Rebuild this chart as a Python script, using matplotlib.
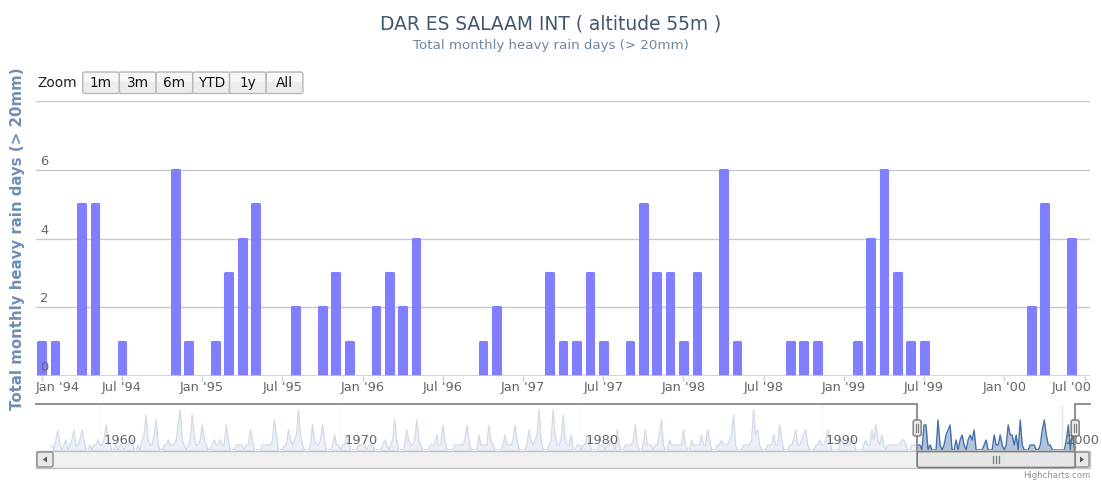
import matplotlib
matplotlib.use("Agg")
import matplotlib.pyplot as plt
from matplotlib.patches import Rectangle, FancyBboxPatch, Polygon
import matplotlib.transforms as mtransforms
import numpy as np
import pandas as pd

# ---------------- data ----------------
title = "DAR ES SALAAM INT ( altitude 55m )"
subtitle = "Total monthly heavy rain days (> 20mm)"
y_title = "Total monthly heavy rain days (> 20mm)"
zoom_label = "Zoom"
zoom_buttons = ["1m", "3m", "6m", "YTD", "1y", "All"]
credit = "Highcharts.com"

# main (zoomed) view: monthly heavy rain days, Jan 1994 .. Jul 2000
main_1994 = [1, 1, 0, 5, 5, 0, 1, 0, 0, 0, 6, 1]
main_1995 = [0, 1, 3, 4, 5, 0, 0, 2, 0, 2, 3, 1]
main_1996 = [0, 2, 3, 2, 4, 0, 0, 0, 0, 1, 2, 0]
main_1997 = [0, 0, 3, 1, 1, 3, 1, 0, 1, 5, 3, 3]
main_1998 = [1, 3, 0, 6, 1, 0, 0, 0, 1, 1, 1, 0]
main_1999 = [0, 1, 4, 6, 3, 1, 1, 0, 0, 0, 0, 0]
main_2000 = [0, 0, 2, 5, 0, 4, 0]
y_ticks = [0, 2, 4, 6]
y_max = 8

# navigator (full history), estimated monthly values 1958 .. 1993
nav_1958_1969 = [
    [1, 0, 2, 4, 1, 0, 1, 2, 0, 1, 2, 4],
    [1, 1, 2, 4, 2, 0, 0, 1, 0, 1, 1, 2],
    [1, 1, 2, 5, 3, 1, 0, 0, 1, 0, 1, 1],
    [0, 1, 1, 3, 2, 0, 0, 1, 0, 2, 3, 7],
    [2, 1, 1, 3, 6, 1, 0, 0, 1, 1, 2, 1],
    [1, 1, 2, 5, 8, 2, 1, 0, 1, 2, 7, 3],
    [1, 1, 2, 5, 2, 1, 0, 0, 1, 2, 1, 1],
    [2, 1, 1, 5, 2, 0, 0, 0, 1, 1, 1, 1],
    [0, 1, 1, 4, 2, 0, 0, 0, 0, 1, 1, 1],
    [1, 1, 2, 6, 3, 0, 0, 0, 1, 1, 4, 2],
    [1, 2, 3, 8, 3, 1, 0, 0, 0, 1, 5, 2],
    [1, 1, 2, 5, 2, 0, 0, 0, 1, 3, 1, 1],
]
nav_1970_1979 = [
    [0, 1, 1, 3, 2, 0, 0, 0, 0, 1, 1, 1],
    [1, 0, 1, 1, 1, 0, 0, 0, 0, 1, 2, 1],
    [0, 1, 2, 6, 2, 0, 0, 0, 1, 4, 2, 1],
    [1, 2, 6, 2, 1, 0, 0, 0, 0, 1, 1, 1],
    [3, 1, 1, 5, 2, 0, 0, 0, 0, 1, 1, 1],
    [1, 1, 2, 5, 2, 0, 0, 0, 0, 3, 1, 1],
    [1, 1, 5, 2, 1, 0, 0, 0, 0, 1, 3, 1],
    [1, 1, 2, 5, 2, 0, 0, 0, 0, 1, 4, 2],
    [1, 2, 3, 8, 2, 0, 0, 0, 1, 2, 8, 3],
    [1, 1, 2, 7, 2, 1, 1, 3, 0, 0, 1, 1],
]
nav_1980_1993 = [
    [0, 1, 1, 3, 2, 0, 0, 0, 0, 1, 1, 1],
    [0, 1, 1, 3, 1, 0, 4, 1, 0, 0, 1, 1],
    [1, 1, 2, 5, 1, 0, 0, 1, 4, 1, 1, 1],
    [0, 1, 1, 3, 6, 1, 0, 0, 2, 1, 1, 1],
    [1, 1, 1, 4, 1, 0, 0, 2, 1, 1, 1, 1],
    [3, 1, 1, 4, 2, 0, 0, 0, 1, 1, 2, 1],
    [1, 1, 2, 3, 7, 1, 0, 0, 0, 1, 1, 1],
    [1, 2, 8, 3, 4, 1, 0, 0, 0, 1, 1, 1],
    [3, 1, 1, 5, 2, 0, 0, 0, 1, 1, 2, 4],
    [1, 1, 2, 3, 4, 1, 0, 0, 0, 1, 1, 2],
    [1, 1, 2, 4, 2, 0, 0, 0, 0, 1, 2, 1],
    [1, 1, 1, 3, 2, 0, 0, 0, 0, 1, 2, 1],
    [1, 4, 2, 5, 2, 1, 3, 1, 0, 1, 1, 1],
    [1, 1, 1, 1, 2, 2, 1, 0, 0, 1, 1, 1],
]
nav_years = [1960, 1970, 1980, 1990, 2000]

# ---------------- derived ----------------
main_values = (main_1994 + main_1995 + main_1996 + main_1997 +
               main_1998 + main_1999 + main_2000)
vals = np.array(main_values, dtype=float)
months = pd.period_range("1994-01", periods=len(main_values), freq="M")
mx = np.arange(len(months))
tick_idx = [i for i, p in enumerate(months) if p.month in (1, 7)]
tick_lbl = [f"{months[i].strftime('%b')} '{months[i].strftime('%y')}" for i in tick_idx]

nav_hist = [v for yr in (nav_1958_1969 + nav_1970_1979 + nav_1980_1993) for v in yr]
nav_vals = np.array(nav_hist + main_values, dtype=float)
nav_x = 1958 + np.arange(len(nav_vals)) / 12.0

W, H = 1102, 480
fig = plt.figure(figsize=(W / 100, H / 100), dpi=100)
plt.rcParams["font.family"] = ["DejaVu Sans"]

def ax_rect(x0, y0, x1, y1):
    return [x0 / W, 1 - y1 / H, (x1 - x0) / W, (y1 - y0) / H]

PL, PR, PT, PB = 36, 1090, 101, 376
LBL = 9.4

# ---------------- main chart ----------------
ax = fig.add_axes(ax_rect(PL, PT, PR, PB))
xmin, xmax = -0.42, len(months) - 1 + 0.4
ax.set_xlim(xmin, xmax)
ax.set_ylim(0, y_max)
for s in ax.spines.values():
    s.set_visible(False)
ax.set_yticks(range(0, y_max + 1, 2))
ax.yaxis.set_tick_params(length=0, labelleft=False)
ax.grid(axis="y", color="#c8c8c8", lw=1.0)
ax.set_axisbelow(True)
nz = vals > 0
ax.bar(mx[nz], vals[nz], width=0.5, color="#7f7fff", edgecolor="#7f7fff",
       linewidth=2.2, joinstyle="round", zorder=2)
ax.axhline(0, color="#c0d0e0", lw=1.2, zorder=3)
ax.set_xticks(tick_idx)
ax.xaxis.set_tick_params(direction="out", length=3.5, width=1, color="#c0d0e0",
                         labelbottom=False)

ytrans = ax.get_yaxis_transform()
for v in y_ticks:
    t = mtransforms.offset_copy(ytrans, fig=fig, x=4, y=2, units="dots")
    ax.text(0, v, str(v), transform=t, ha="left", va="bottom",
            fontsize=LBL, color="#666666", zorder=4)

xtrans = ax.get_xaxis_transform()
for k, (i, lab) in enumerate(zip(tick_idx, tick_lbl)):
    t = mtransforms.offset_copy(xtrans, fig=fig, x=0, y=-11, units="dots")
    if k == 0:
        ax.text(xmin, 0, lab, transform=t, ha="left", va="center",
                fontsize=LBL, color="#666666")
    elif k == len(tick_idx) - 1:
        t2 = mtransforms.offset_copy(xtrans, fig=fig, x=2, y=-11, units="dots")
        ax.text(xmax, 0, lab, transform=t2, ha="right", va="center",
                fontsize=LBL, color="#666666")
    else:
        ax.text(i, 0, lab, transform=t, ha="center", va="center",
                fontsize=LBL, color="#666666")

# ---------------- navigator ----------------
nav = fig.add_axes(ax_rect(PL, 405, PR, 450))
nav_lo, nav_hi = 1957.34, 2001.15
nav.set_xlim(nav_lo, nav_hi)
nav.set_ylim(0, 9)
nav.axis("off")
for yv in nav_years:
    nav.axvline(yv, color="#e6e6e6", lw=1, zorder=0)
nav.fill_between(nav_x, nav_vals, color="#4572a7", alpha=0.42, lw=0, zorder=1)
nav.plot(nav_x, nav_vals, color="#4572a7", lw=1.0, zorder=2)
sel_lo = 1994 + xmin / 12.0
sel_hi = 1994 + xmax / 12.0
nav.add_patch(Rectangle((nav_lo, -1), sel_lo - nav_lo, 11, facecolor="white",
                        alpha=0.76, lw=0, zorder=3))
nav.add_patch(Rectangle((sel_hi, -1), nav_hi - sel_hi, 11, facecolor="white",
                        alpha=0.76, lw=0, zorder=3))
ntrans = nav.get_xaxis_transform()
for yv in nav_years:
    t = mtransforms.offset_copy(ntrans, fig=fig, x=4, y=0, units="dots")
    nav.text(yv, 0.22, str(yv), transform=t, ha="left", va="center",
             fontsize=LBL, color="#666666", zorder=5, clip_on=False)

# ---------------- overlay (px coords) ----------------
ov = fig.add_axes([0, 0, 1, 1])
ov.set_xlim(0, W)
ov.set_ylim(H, 0)
ov.axis("off")
ov.patch.set_visible(False)

hx0 = PL + (sel_lo - nav_lo) / (nav_hi - nav_lo) * (PR - PL)
hx1 = PL + (sel_hi - nav_lo) / (nav_hi - nav_lo) * (PR - PL)

# scrollbar
ov.add_patch(Rectangle((PL, 451), PR - PL, 17, facecolor="#f0f0f0",
                       edgecolor="#c4c4c4", lw=1))
ov.add_patch(FancyBboxPatch((PL + 1, 452), 16, 15, boxstyle="round,pad=0,rounding_size=2",
                            facecolor="#e8e8e8", edgecolor="#8a8a8a", lw=1))
ov.add_patch(FancyBboxPatch((PR - 16, 452), 15, 15, boxstyle="round,pad=0,rounding_size=2",
                            facecolor="#e8e8e8", edgecolor="#8a8a8a", lw=1))
ov.add_patch(Polygon([[PL + 11, 456.5], [PL + 11, 462.5], [PL + 7, 459.5]],
                     closed=True, facecolor="#555555", lw=0))
ov.add_patch(Polygon([[PR - 10, 456.5], [PR - 10, 462.5], [PR - 6, 459.5]],
                     closed=True, facecolor="#555555", lw=0))
ov.add_patch(FancyBboxPatch((hx0, 451.5), hx1 - hx0, 16, boxstyle="round,pad=0,rounding_size=2",
                            facecolor="#e6e6e6", edgecolor="#7a7a7a", lw=1.2))
cx = (hx0 + hx1) / 2
for dx in (-3, 0, 3):
    ov.plot([cx + dx, cx + dx], [456, 463], color="#777777", lw=0.9)

# navigator outline
ov.plot([PL, hx0, hx0], [404, 404, 451], color="#8f8f8f", lw=1.4,
        solid_joinstyle="miter")
ov.plot([hx1, hx1, PR], [451, 404, 404], color="#8f8f8f", lw=1.4,
        solid_joinstyle="miter")
# handles
for hx in (hx0, hx1):
    ov.add_patch(FancyBboxPatch((hx - 4, 420), 8, 16, boxstyle="round,pad=0,rounding_size=2",
                                facecolor="#ebe7e8", edgecolor="#7a7a7a", lw=1, zorder=5))
    for dx in (-1.2, 1.2):
        ov.plot([hx + dx, hx + dx], [424, 432], color="#7a7a7a", lw=0.8, zorder=6)

# range selector
fig.text(37 / W, 1 - 83 / H, zoom_label, ha="left", va="center", fontsize=9.8,
         color="#222222")
bx = 82.7
bw = 36.7
for lab in zoom_buttons:
    ov.add_patch(FancyBboxPatch((bx, 72), bw, 21.5, boxstyle="round,pad=0,rounding_size=2",
                                facecolor="#ececec", edgecolor="#b8b8b8", lw=1))
    ov.add_patch(Rectangle((bx + 1, 73), bw - 2, 9, facecolor="#f7f7f7", lw=0))
    ov.text(bx + bw / 2, 83, lab, ha="center", va="center", fontsize=9.8, color="#111111")
    bx += bw

# titles
fig.text(551 / W, 1 - 24 / H, title, ha="center", va="center", fontsize=13.4,
         color="#3e576f")
fig.text(551 / W, 1 - 45 / H, subtitle, ha="center", va="center", fontsize=9.6,
         color="#6d869f")
fig.text(18 / W, 1 - ((PT + PB) / 2) / H, y_title, rotation=90, ha="center",
         va="center", fontsize=10.8, fontweight="bold", color="#6d8fb4")
fig.text(1090 / W, 1 - 476 / H, credit, ha="right", va="center", fontsize=6.1,
         color="#909090")

fig.savefig("out.png", dpi=100)
